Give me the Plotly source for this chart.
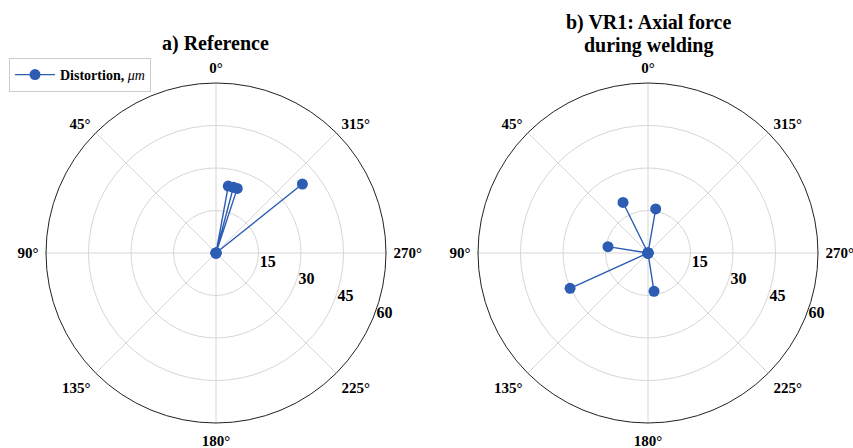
import plotly.graph_objects as go

# Distortion readings (angle in degrees, magnitude in micrometres)
ref_theta = [349.6, 345.2, 341.8, 308.6]
ref_r = [24.0, 24.0, 24.0, 39.0]

vr1_theta = [26.3, 350.1, 81.0, 114.4, 188.9]
vr1_r = [19.9, 15.8, 14.3, 30.2, 13.7]

title_a = ["a) Reference"]
title_b = ["b) VR1: Axial force", "during welding"]
radial_ticks = [15, 30, 45, 60]
angle_ticks = [0, 45, 90, 135, 180, 225, 270, 315]

BLUE = "#2c5db3"
SERIF = "Liberation Serif"
W, H = 853, 448
CY, RAD = 253, 170


def spokes(theta, r):
    """Each reading is drawn as a spoke from the origin out to its point."""
    t_out, r_out = [], []
    for th, rv in zip(theta, r):
        t_out += [th, th]
        r_out += [0, rv]
    return t_out, r_out


fig = go.Figure()

for i, (theta, r) in enumerate([(ref_theta, ref_r), (vr1_theta, vr1_r)]):
    t_s, r_s = spokes(theta, r)
    fig.add_trace(go.Scatterpolar(
        theta=t_s, r=r_s, mode="lines+markers",
        line=dict(color=BLUE, width=1.4),
        marker=dict(color=BLUE, size=11),
        name="<b>Distortion, </b><i>μm</i>",
        showlegend=(i == 0),
        subplot="polar" if i == 0 else "polar2",
    ))


def polar_layout(cx):
    return dict(
        domain=dict(x=[(cx - RAD) / W, (cx + RAD) / W],
                    y=[1 - (CY + RAD) / H, 1 - (CY - RAD) / H]),
        bgcolor="white",
        angularaxis=dict(
            rotation=90, direction="counterclockwise",
            tickmode="array", tickvals=angle_ticks,
            ticktext=[f"<b>{a}°</b>" for a in angle_ticks],
            tickfont=dict(family=SERIF, size=15, color="black"),
            showline=True, linecolor="#222222", linewidth=1,
            gridcolor="#d6d6d6", gridwidth=1,
            ticks="outside", ticklen=4, tickcolor="rgba(0,0,0,0)",
        ),
        radialaxis=dict(
            range=[0, 60], tickmode="array", tickvals=radial_ticks,
            ticktext=[f"<b>{v}</b>" for v in radial_ticks],
            tickfont=dict(family=SERIF, size=16, color="black"),
            angle=-23.5, side="counterclockwise", tickangle=-23.5,
            showline=False, ticks="",
            gridcolor="#d6d6d6", gridwidth=1,
        ),
    )


def title_line(text, cx, cy):
    return dict(text=f"<b>{text}</b>", x=cx / W, y=1 - cy / H,
                xref="paper", yref="paper", showarrow=False,
                font=dict(family=SERIF, size=20, color="black"),
                xanchor="center", yanchor="middle")


fig.update_layout(
    width=W, height=H,
    margin=dict(l=0, r=0, t=0, b=0),
    paper_bgcolor="white",
    polar=polar_layout(216),
    polar2=polar_layout(648),
    showlegend=True,
    legend=dict(
        x=9 / W, y=1 - 58 / H, xanchor="left", yanchor="top",
        bgcolor="white", bordercolor="#cccccc", borderwidth=1,
        font=dict(family=SERIF, size=14, color="black"),
        itemwidth=40, tracegroupgap=0,
    ),
    annotations=[
        title_line(title_a[0], 216, 44),
        title_line(title_b[0], 648, 22),
        title_line(title_b[1], 648, 45),
    ],
)

fig.write_html("out.html")
